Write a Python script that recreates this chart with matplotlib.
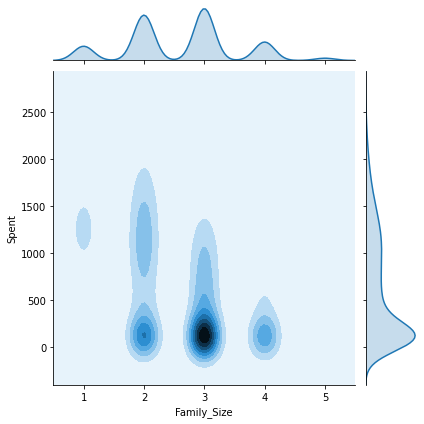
import numpy as np
import matplotlib
matplotlib.use("Agg")
import matplotlib.pyplot as plt
from matplotlib.gridspec import GridSpec
from matplotlib.colors import LinearSegmentedColormap, to_rgb
import colorsys

# ---------------- data ----------------
family_sizes = [1, 2, 3, 4, 5]
spent_levels = [5, 50, 100, 150, 200, 300, 400, 500, 600, 700, 800, 900, 1000,
                1100, 1200, 1300, 1400, 1500, 1600, 1700, 1800, 1900, 2000,
                2100, 2200, 2300, 2400, 2525]
counts_size1 = [5, 8, 9, 8, 6, 4, 4, 5, 6, 7, 8, 9, 11, 15, 20, 20, 15, 12,
                10, 8, 7, 6, 5, 5, 4, 4, 3, 2]
counts_size2 = [28, 50, 66, 53, 41, 26, 27, 24, 20, 23, 29, 32, 35, 36, 36, 34,
                32, 29, 24, 20, 16, 13, 10, 7, 4, 3, 2, 1]
counts_size3 = [75, 95, 90, 90, 75, 55, 42, 40, 38, 36, 34, 32, 30, 26, 20,
                15, 11, 8, 5, 3, 2, 1, 1, 0, 0, 0, 0, 0]
counts_size4 = [25, 40, 45, 38, 30, 18, 16, 13, 12, 9, 8, 7, 6, 5, 5, 4, 3, 3,
                2, 2, 1, 0, 1, 0, 0, 0, 0, 0]
counts_size5 = [3, 5, 6, 4, 3, 3, 2, 2, 2, 2, 1, 1, 1, 1, 0, 0, 0, 0, 0, 0, 0,
                0, 0, 0, 0, 0, 0, 0]
x_label = "Family_Size"
y_label = "Spent"

# KDE settings (Scott bandwidths as seen in the picture)
BW_X = 0.167
BW_Y = 136.0
CUT = 3
GRID = 100

# ---------------- weighted sample ----------------
all_counts = [counts_size1, counts_size2, counts_size3, counts_size4, counts_size5]
xs, ys, ws = [], [], []
for f, cnts in zip(family_sizes, all_counts):
    for s, c in zip(spent_levels, cnts):
        if c > 0:
            xs.append(f)
            ys.append(s)
            ws.append(c)
xs = np.array(xs, float)
ys = np.array(ys, float)
ws = np.array(ws, float)
W = ws.sum()


def gauss(u):
    return np.exp(-0.5 * u ** 2) / np.sqrt(2 * np.pi)


x_sup = np.linspace(xs.min() - CUT * BW_X, xs.max() + CUT * BW_X, GRID)
y_sup = np.linspace(ys.min() - CUT * BW_Y, ys.max() + CUT * BW_Y, GRID)
xx, yy = np.meshgrid(x_sup, y_sup)
kx = gauss((x_sup[None, :] - xs[:, None]) / BW_X) / BW_X
ky = gauss((y_sup[None, :] - ys[:, None]) / BW_Y) / BW_Y
zz = (ky * ws[:, None]).T @ kx / W

xm = np.linspace(xs.min() - CUT * BW_X, xs.max() + CUT * BW_X, 128)
ym = np.linspace(ys.min() - CUT * BW_Y, ys.max() + CUT * BW_Y, 128)
dx = (gauss((xm[None, :] - xs[:, None]) / BW_X) / BW_X * ws[:, None]).sum(0) / W
dy = (gauss((ym[None, :] - ys[:, None]) / BW_Y) / BW_Y * ws[:, None]).sum(0) / W

# ---------------- colormap (white -> blue -> black, hue of C0) ----------------
base = "#1f77b4"
h, l, s = colorsys.rgb_to_hls(*to_rgb(base))
cols = [colorsys.hls_to_rgb(h, lv, s) for lv in np.linspace(1, 0, 12)]
cmap = LinearSegmentedColormap.from_list("blend", cols)

# ---------------- figure ----------------
fig = plt.figure(figsize=(6, 6), dpi=72)
gs = GridSpec(6, 6, figure=fig)
ax = fig.add_subplot(gs[1:, :-1])
axx = fig.add_subplot(gs[0, :-1], sharex=ax)
axy = fig.add_subplot(gs[1:, -1], sharey=ax)

ax.contourf(xx, yy, zz, 10, cmap=cmap)
ax.set_xlabel(x_label)
ax.set_ylabel(y_label)
ax.set_xticks(family_sizes)

axx.plot(xm, dx, color=base, lw=1.5)
axx.fill_between(xm, 1e-12, dx, facecolor=base, alpha=0.25)
axx.set_ylim(0, None)

axy.plot(dy, ym, color=base, lw=1.5)
axy.fill_betweenx(ym, 1e-12, dy, facecolor=base, alpha=0.25)
axy.set_xlim(0, None)

for sp in ("top", "right"):
    ax.spines[sp].set_visible(False)
    axx.spines[sp].set_visible(False)
    axy.spines[sp].set_visible(False)
axx.spines["left"].set_visible(False)
axy.spines["bottom"].set_visible(False)
axx.tick_params(axis="x", labelbottom=False)
axx.tick_params(axis="y", left=False, labelleft=False)
axy.tick_params(axis="y", labelleft=False)
axy.tick_params(axis="x", bottom=False, labelbottom=False)

fig.tight_layout()
fig.subplots_adjust(hspace=0.2, wspace=0.2)
fig.savefig("out.png", dpi=72, bbox_inches="tight")
